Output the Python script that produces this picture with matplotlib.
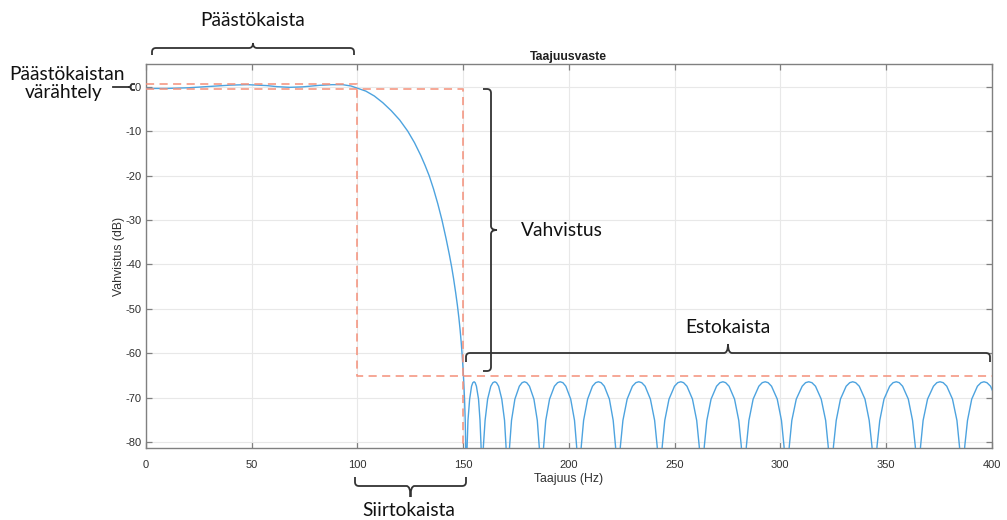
import matplotlib
matplotlib.use('Agg')
import matplotlib.pyplot as plt
from matplotlib.path import Path
from matplotlib.patches import PathPatch

plt.rcParams['axes.unicode_minus'] = False

# passband and transition band of the magnitude response (Hz, dB)
pass_f = [0, 10, 20, 30, 40, 48, 57, 62, 68, 74, 82, 88, 93, 97, 100,
          104, 108, 112, 116, 120, 123.8, 127, 130, 132, 134, 136, 138, 140,
          142, 143.5, 144.6, 145.5, 146.5, 147.3, 148.0, 148.6, 149.1, 149.5,
          149.9, 150.3, 150.7, 151.0, 151.2]
pass_db = [-0.4, -0.4, -0.25, 0.05, 0.35, 0.45, 0.25, 0.0, -0.15, -0.05, 0.3,
           0.45, 0.45, 0.15, -0.35,
           -1.0, -2.1, -3.6, -5.4, -7.5, -10, -12.6, -15.5, -17.7, -20.1, -23.0,
           -26.3, -30.0, -34.3, -37.8, -40.6, -43.2, -46.4, -49.2, -52.0, -54.8,
           -57.5, -60.0, -62.9, -66.3, -70.5, -75, -80]

# stopband side lobes: frequencies of each lobe, all lobes share the same level profile
stop_lobes_f = [
    [151.4, 151.9, 152.3, 153.1, 154.0, 154.6, 155.2, 155.7, 156.3, 157.3, 158.0, 158.5],
    [158.9, 159.6, 160.4, 161.6, 163.1, 164.1, 165.0, 165.8, 166.8, 168.3, 169.6, 170.3],
    [171.0, 172.0, 172.9, 174.5, 176.6, 177.9, 179.0, 180.1, 181.4, 183.5, 185.1, 186.0],
    [187.0, 188.1, 189.1, 190.9, 193.2, 194.7, 195.9, 197.2, 198.6, 200.9, 202.7, 203.7],
    [204.8, 205.9, 207.0, 208.9, 211.2, 212.7, 214.0, 215.3, 216.8, 219.2, 221.0, 222.1],
    [223.2, 224.4, 225.6, 227.6, 230.1, 231.7, 233.1, 234.5, 236.1, 238.6, 240.6, 241.8],
    [243.0, 244.2, 245.4, 247.4, 250.0, 251.6, 253.0, 254.3, 255.9, 258.5, 260.5, 261.7],
    [262.9, 264.1, 265.3, 267.3, 269.9, 271.5, 272.9, 274.2, 275.8, 278.4, 280.4, 281.6],
    [282.8, 284.0, 285.2, 287.2, 289.9, 291.5, 292.9, 294.3, 295.9, 298.6, 300.6, 301.8],
    [303.0, 304.3, 305.5, 307.6, 310.4, 312.0, 313.5, 315.0, 316.7, 319.4, 321.5, 322.7],
    [324.0, 325.2, 326.5, 328.5, 331.2, 332.9, 334.3, 335.7, 337.4, 340.1, 342.1, 343.4],
    [344.6, 345.8, 347.1, 349.1, 351.8, 353.4, 354.9, 356.3, 357.9, 360.6, 362.6, 363.9],
    [365.1, 366.4, 367.6, 369.7, 372.5, 374.1, 375.6, 377.1, 378.8, 381.5, 383.6, 384.8],
    [386.1, 387.3, 388.6, 390.6, 393.3, 395.0, 396.4, 397.8, 399.5, 402.2, 404.2, 405.5],
]
lobe_db = [-90, -80.9, -75.1, -70.3, -67.4, -66.6, -66.4, -66.6, -67.4, -70.3, -75.1, -80.9]
last_null_f = 406.7

# specification mask
f_pass = 100
f_stop = 150
ripple_hi = 0.5
ripple_lo = -0.5
atten_db = -65

xticks = [0, 50, 100, 150, 200, 250, 300, 350, 400]
yticks = [-80, -70, -60, -50, -40, -30, -20, -10, 0]

resp_f = list(pass_f)
resp_db = list(pass_db)
for lobe in stop_lobes_f:
    resp_f += lobe
    resp_db += lobe_db
resp_f.append(last_null_f)
resp_db.append(-90)

W, H = 1007, 520
fig = plt.figure(figsize=(W / 100, H / 100), dpi=100)
ax = fig.add_axes([146 / W, 1 - 448 / H, (991.6 - 146) / W, (448 - 64) / H])

ax.plot(resp_f, resp_db, color='#4da3df', lw=1.0, zorder=3)

mask_kw = dict(color='#f4907a', lw=1.3, ls=(0, (4.5, 3)), alpha=0.85, zorder=4)
ax.plot([0, f_pass, f_pass, 400], [ripple_hi, ripple_hi, atten_db, atten_db], **mask_kw)
ax.plot([0, f_stop, f_stop], [ripple_lo, ripple_lo, -81.3], **mask_kw)

ax.set_xlim(0, 400)
ax.set_ylim(-81.3, 5.1)
ax.set_xticks(xticks)
ax.set_yticks(yticks)
ax.grid(True, color='#e8e8e8', lw=0.8)
ax.set_axisbelow(True)
for s in ax.spines.values():
    s.set_color('#808080')
    s.set_linewidth(1.0)
ax.tick_params(direction='in', length=4, width=0.9, color='#808080',
               labelsize=8, labelcolor='#303030', top=True, right=True)
ax.tick_params(axis='x', pad=9)
for lab in ax.get_xticklabels() + ax.get_yticklabels():
    lab.set_fontfamily('Liberation Sans')
ax.set_title('Taajuusvaste', fontsize=8.8, fontweight='bold', family='Liberation Sans',
             color='#202020', pad=3)
ax.set_xlabel('Taajuus (Hz)', fontsize=8.8, family='Liberation Sans', color='#303030', labelpad=2)
ax.set_ylabel('Vahvistus (dB)', fontsize=8.8, family='Liberation Sans', color='#303030', labelpad=0)


def to_fig(pts):
    return [(x / W, 1 - y / H) for x, y in pts]


def brace(x0, x1, tip, line, cusp, vertical=False, r=4):
    # curly bracket in pixel coords; tips at 'tip', body at 'line', middle point at 'cusp'
    c = (x0 + x1) / 2
    s = 1 if tip > line else -1
    pts = [(x0, tip), (x0, line + s * r), (x0, line), (x0 + r, line),
           (c - r, line), (c, line), (c, cusp),
           (c, line), (c + r, line), (x1 - r, line), (x1, line), (x1, line + s * r),
           (x1, tip)]
    codes = [Path.MOVETO, Path.LINETO, Path.CURVE3, Path.CURVE3,
             Path.LINETO, Path.CURVE3, Path.CURVE3,
             Path.CURVE3, Path.CURVE3, Path.LINETO, Path.CURVE3, Path.CURVE3,
             Path.LINETO]
    if vertical:
        pts = [(b, a) for a, b in pts]
    p = PathPatch(Path(to_fig(pts), codes), transform=fig.transFigure,
                  fill=False, edgecolor='#333333', lw=1.3)
    fig.add_artist(p)


note_kw = dict(family='Lato', fontsize=13.8, color='#111111')

brace(152, 354, 55, 48, 43)
fig.text(253 / W, 1 - 26.5 / H, 'Päästökaista', ha='center', va='baseline', **note_kw)

brace(355, 466, 477, 486, 497)
fig.text(409 / W, 1 - 516.5 / H, 'Siirtokaista', ha='center', va='baseline', **note_kw)

brace(466, 990, 362, 353, 344)
fig.text(728 / W, 1 - 333 / H, 'Estokaista', ha='center', va='baseline', **note_kw)

brace(89, 371, 483, 491, 497, vertical=True)
fig.text(521 / W, 1 - 236 / H, 'Vahvistus', ha='left', va='baseline', **note_kw)

brace(84, 90, 135, 131, 128, vertical=True, r=1.5)
fig.add_artist(plt.Line2D([113 / W, 128 / W], [1 - 87 / H, 1 - 87 / H],
                          transform=fig.transFigure, color='#333333', lw=1.3))
fig.text(67 / W, 1 - 80 / H, 'Päästökaistan', ha='center', va='baseline', **note_kw)
fig.text(64 / W, 1 - 98 / H, 'värähtely', ha='center', va='baseline', **note_kw)

fig.savefig('out.png', dpi=100)
